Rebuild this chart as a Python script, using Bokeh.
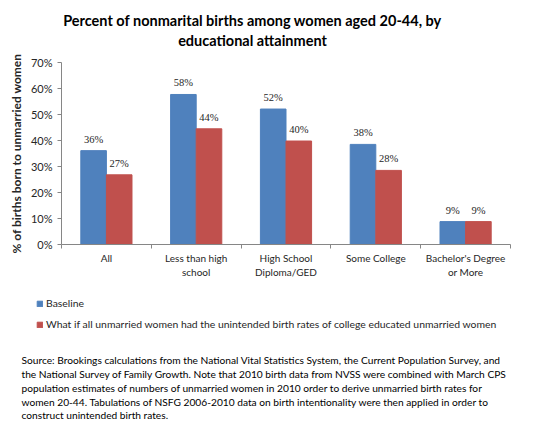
import numpy as np
from bokeh.plotting import figure
from bokeh.layouts import column
from bokeh.models import (ColumnDataSource, Range1d, FixedTicker, PrintfTickFormatter,
                          LabelSet, Label)
from bokeh.embed import file_html
from bokeh.resources import INLINE

categories = ["All", "Less than high\nschool", "High School\nDiploma/GED",
              "Some College", "Bachelor's Degree\nor More"]
baseline = [36.1, 57.7, 52.1, 38.5, 8.8]
whatif = [26.8, 44.5, 39.8, 28.5, 8.8]
series_names = ["Baseline",
                "What if all unmarried women had the unintended birth rates of college educated unmarried women"]
y_ticks = [0, 10, 20, 30, 40, 50, 60, 70]
title_lines = ["Percent of nonmarital births among women aged 20-44, by",
               "educational attainment"]
y_title = "% of births born to unmarried women"
source_lines = [
    "Source: Brookings calculations from the National Vital Statistics System, the Current Population Survey, and",
    "the National Survey of Family Growth. Note that 2010 birth data from NVSS were combined with March CPS",
    "population estimates of numbers of unmarried women in 2010 order to derive unmarried birth rates for",
    "women 20-44. Tabulations of NSFG 2006-2010 data on birth intentionality were then applied in order to",
    "construct unintended birth rates.",
]

FONT = "Lato"
BLUE = "#4F81BD"
RED = "#C0504D"
AXIS = "#868686"
TXT = "#262626"
W = 550


def blank(h, xr=(0, 1)):
    f = figure(width=W, height=h, output_backend="svg", toolbar_location=None,
               x_axis_location=None, y_axis_location=None, min_border=0,
               x_range=Range1d(*xr), y_range=Range1d(0, 1), frame_align=False)
    f.outline_line_color = None
    f.grid.visible = False
    return f


# ---------- title ----------
H0 = 50
p0 = blank(H0)
for i, line in enumerate(title_lines):
    p0.add_layout(Label(x=252, y=H0 - 20 - 20 * i, x_units="screen", y_units="screen",
                        text=line, text_align="center", text_baseline="middle",
                        text_font=FONT, text_font_style="bold", text_font_size="14.5px",
                        text_color="black"))

# ---------- chart ----------
n = len(categories)
centers = np.arange(n) + 0.5
bw = 0.285
src = ColumnDataSource(dict(
    xb=centers - bw / 2, xr=centers + bw / 2,
    b=baseline, r=whatif,
    bt=["%d%%" % round(v) for v in baseline],
    rt=["%d%%" % round(v) for v in whatif],
))

H1 = 234
p = figure(width=W, height=H1, output_backend="svg", toolbar_location=None,
           x_range=Range1d(0, n), y_range=Range1d(y_ticks[0], y_ticks[-1]),
           min_border_left=61, min_border_right=40, min_border_top=12, min_border_bottom=40,
           frame_align=False)
p.outline_line_color = None
p.grid.visible = False

p.vbar(x="xb", top="b", width=bw, source=src, fill_color=BLUE, line_color=BLUE)
p.vbar(x="xr", top="r", width=bw, source=src, fill_color=RED, line_color=RED)

for col, xcol, ycol in (("bt", "xb", "b"), ("rt", "xr", "r")):
    p.add_layout(LabelSet(x=xcol, y=ycol, text=col, source=src, y_offset=6,
                          text_align="center", text_baseline="bottom",
                          text_font=FONT, text_font_size="10.5px", text_color=TXT))

xa = p.xaxis[0]
xa.ticker = FixedTicker(ticks=list(centers), minor_ticks=list(range(n + 1)))
xa.major_label_overrides = {float(c): lab for c, lab in zip(centers, categories)}
xa.major_tick_line_color = None
xa.major_tick_out = 0
xa.minor_tick_out = 4
xa.minor_tick_in = 0
xa.minor_tick_line_color = AXIS
xa.axis_line_color = AXIS
xa.major_label_standoff = 3
xa.major_label_text_font = FONT
xa.major_label_text_font_size = "10px"
xa.major_label_text_color = TXT

ya = p.yaxis[0]
ya.ticker = FixedTicker(ticks=y_ticks)
ya.formatter = PrintfTickFormatter(format="%d%%")
ya.axis_line_color = AXIS
ya.major_tick_line_color = AXIS
ya.major_tick_out = 4
ya.major_tick_in = 0
ya.minor_tick_line_color = None
ya.major_label_standoff = 5
ya.major_label_text_font = FONT
ya.major_label_text_font_size = "11px"
ya.major_label_text_color = TXT
ya.axis_label = y_title
ya.axis_label_text_font = FONT
ya.axis_label_text_font_style = "bold"
ya.axis_label_text_font_size = "12px"
ya.axis_label_standoff = 4
ya.axis_label_text_color = TXT

# ---------- legend + source ----------
H2 = 432 - H0 - H1
p2 = blank(H2, xr=(-10, -9))   # swatch renderers only; their bars fall outside this view
p2.vbar(x="xb", top="b", width=bw, source=src, fill_color=BLUE, line_color=BLUE,
        legend_label=series_names[0])
p2.vbar(x="xr", top="r", width=bw, source=src, fill_color=RED, line_color=RED,
        legend_label=series_names[1])
lg = p2.legend[0]
lg.location = (36, H2 - 49)
lg.orientation = "vertical"
lg.padding = 0
lg.margin = 0
lg.border_line_color = None
lg.background_fill_alpha = 0
lg.glyph_width = 7
lg.glyph_height = 7
lg.label_height = 18
lg.spacing = 3
lg.label_standoff = 3
lg.label_text_font = FONT
lg.label_text_font_size = "10.4px"
lg.label_text_color = TXT

for i, line in enumerate(source_lines):
    p2.add_layout(Label(x=21, y=H2 - 75.3 - 13.9 * i, x_units="screen", y_units="screen",
                        text=line, text_align="left", text_baseline="middle",
                        text_font=FONT, text_font_size="10.2px", text_color="black"))

layout = column(p0, p, p2, spacing=0)
open("out.html", "w").write(file_html(layout, INLINE))
